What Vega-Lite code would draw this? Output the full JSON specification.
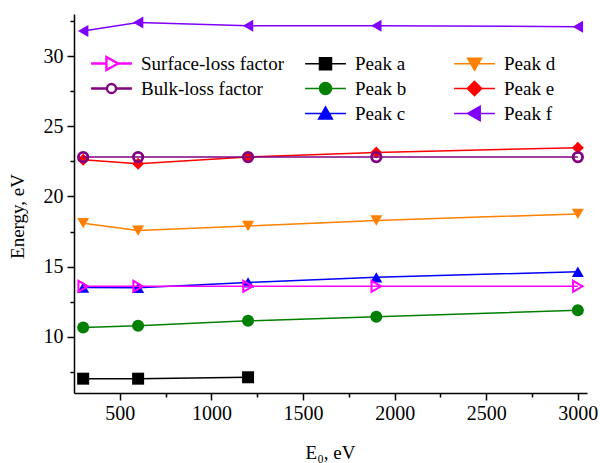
{
  "$schema": "https://vega.github.io/schema/vega-lite/v6.json",
  "autosize": {"type": "none"},
  "width": 513,
  "height": 379,
  "padding": {"left": 74, "top": 14, "right": 13, "bottom": 70},
  "config": {
    "view": {"stroke": null},
    "font": "Liberation Serif, Times New Roman, serif",
    "axis": {
      "domainColor": "black", "domainWidth": 1.5,
      "tickColor": "black", "tickWidth": 1.5,
      "labelColor": "black", "labelFont": "Liberation Serif, Times New Roman, serif", "labelFontSize": 20,
      "titleFont": "Liberation Serif, Times New Roman, serif", "titleFontSize": 19, "titleFontWeight": "normal", "titleColor": "black",
      "grid": false, "labelOverlap": false, "labelFlush": false
    },
    "legend": {"labelFont": "Liberation Serif, Times New Roman, serif", "labelFontSize": 19, "labelColor": "black", "labelLimit": 400}
  },
  "data": {
    "values": [
      {"series": "Peak a", "E0": 300, "energy": 7.02},
      {"series": "Peak a", "E0": 600, "energy": 7.02},
      {"series": "Peak a", "E0": 1200, "energy": 7.12},
      {"series": "Peak b", "E0": 300, "energy": 10.66},
      {"series": "Peak b", "E0": 600, "energy": 10.79},
      {"series": "Peak b", "E0": 1200, "energy": 11.14},
      {"series": "Peak b", "E0": 1900, "energy": 11.43},
      {"series": "Peak b", "E0": 3000, "energy": 11.9},
      {"series": "Peak c", "E0": 300, "energy": 13.52},
      {"series": "Peak c", "E0": 600, "energy": 13.5},
      {"series": "Peak c", "E0": 1200, "energy": 13.88},
      {"series": "Peak c", "E0": 1900, "energy": 14.24},
      {"series": "Peak c", "E0": 3000, "energy": 14.64},
      {"series": "Peak d", "E0": 300, "energy": 18.1},
      {"series": "Peak d", "E0": 600, "energy": 17.57},
      {"series": "Peak d", "E0": 1200, "energy": 17.9},
      {"series": "Peak d", "E0": 1900, "energy": 18.29},
      {"series": "Peak d", "E0": 3000, "energy": 18.76},
      {"series": "Peak e", "E0": 300, "energy": 22.62},
      {"series": "Peak e", "E0": 600, "energy": 22.33},
      {"series": "Peak e", "E0": 1200, "energy": 22.81},
      {"series": "Peak e", "E0": 1900, "energy": 23.14},
      {"series": "Peak e", "E0": 3000, "energy": 23.48},
      {"series": "Peak f", "E0": 300, "energy": 31.79},
      {"series": "Peak f", "E0": 600, "energy": 32.4},
      {"series": "Peak f", "E0": 1200, "energy": 32.17},
      {"series": "Peak f", "E0": 1900, "energy": 32.17},
      {"series": "Peak f", "E0": 3000, "energy": 32.1},
      {"series": "Surface-loss factor", "E0": 300, "energy": 13.6},
      {"series": "Surface-loss factor", "E0": 600, "energy": 13.6},
      {"series": "Surface-loss factor", "E0": 1200, "energy": 13.6},
      {"series": "Surface-loss factor", "E0": 1900, "energy": 13.6},
      {"series": "Surface-loss factor", "E0": 3000, "energy": 13.6},
      {"series": "Bulk-loss factor", "E0": 300, "energy": 22.81},
      {"series": "Bulk-loss factor", "E0": 600, "energy": 22.81},
      {"series": "Bulk-loss factor", "E0": 1200, "energy": 22.81},
      {"series": "Bulk-loss factor", "E0": 1900, "energy": 22.81},
      {"series": "Bulk-loss factor", "E0": 3000, "energy": 22.81}
    ]
  },
  "encoding": {
    "x": {
      "field": "E0", "type": "quantitative",
      "scale": {"domain": [250, 3050], "nice": false, "zero": false},
      "axis": {
        "values": [500, 750, 1000, 1250, 1500, 1750, 2000, 2250, 2500, 2750, 3000],
        "format": "d",
        "labelExpr": "datum.value % 500 === 0 ? datum.label : ''",
        "tickSize": {"condition": {"test": "datum.value % 500 === 0", "value": 7}, "value": 4},
        "labelPadding": 3,
        "title": "E₀, eV",
        "titleX": 256, "titleY": 65, "titleBaseline": "alphabetic", "titleAlign": "center"
      }
    },
    "y": {
      "field": "energy", "type": "quantitative",
      "scale": {"domain": [6, 33], "nice": false, "zero": false},
      "axis": {
        "values": [7.5, 10, 12.5, 15, 17.5, 20, 22.5, 25, 27.5, 30, 32.5],
        "labelExpr": "datum.value % 5 === 0 ? datum.label : ''",
        "tickSize": {"condition": {"test": "datum.value % 5 === 0", "value": 7}, "value": 4},
        "labelPadding": 4,
        "title": "Energy, eV",
        "titleX": -57, "titleY": 202, "titleBaseline": "middle", "titleAlign": "center"
      }
    }
  },
  "layer": [
    {
      "transform": [{"filter": {"field": "series", "oneOf": ["Peak a", "Peak b", "Peak c", "Peak d", "Peak e", "Peak f"]}}],
      "mark": {"type": "line", "strokeWidth": 1.5},
      "encoding": {
        "color": {
          "field": "series", "type": "nominal",
          "scale": {"domain": ["Peak a", "Peak b", "Peak c", "Peak d", "Peak e", "Peak f"], "range": ["#000000", "#008000", "#0000FF", "#FF8000", "#FF0000", "#8000FF"]},
          "legend": null
        }
      }
    },
    {
      "transform": [{"filter": {"field": "series", "oneOf": ["Peak a", "Peak b", "Peak c", "Peak d", "Peak e", "Peak f"]}}],
      "mark": {"type": "point", "filled": true, "opacity": 1},
      "encoding": {
        "color": {
          "field": "series", "type": "nominal",
          "scale": {"domain": ["Peak a", "Peak b", "Peak c", "Peak d", "Peak e", "Peak f"], "range": ["#000000", "#008000", "#0000FF", "#FF8000", "#FF0000", "#8000FF"]},
          "legend": null
        },
        "shape": {
          "field": "series", "type": "nominal",
          "scale": {"domain": ["Peak a", "Peak b", "Peak c", "Peak d", "Peak e", "Peak f"], "range": ["square", "circle", "triangle-up", "triangle-down", "diamond", "triangle-left"]},
          "legend": null
        },
        "size": {
          "field": "series", "type": "nominal",
          "scale": {"domain": ["Peak a", "Peak b", "Peak c", "Peak d", "Peak e", "Peak f"], "range": [144, 144, 196, 200, 196, 225]},
          "legend": null
        }
      }
    },
    {
      "transform": [{"filter": {"field": "series", "oneOf": ["Surface-loss factor", "Bulk-loss factor"]}}],
      "mark": {"type": "line", "strokeWidth": 1.5},
      "encoding": {
        "color": {
          "field": "series", "type": "nominal",
          "scale": {"domain": ["Surface-loss factor", "Bulk-loss factor"], "range": ["#FF00FF", "#800080"]},
          "legend": null
        }
      }
    },
    {
      "transform": [{"filter": {"field": "series", "oneOf": ["Surface-loss factor", "Bulk-loss factor"]}}],
      "mark": {"type": "point", "filled": false, "opacity": 1},
      "encoding": {
        "color": {
          "field": "series", "type": "nominal",
          "scale": {"domain": ["Surface-loss factor", "Bulk-loss factor"], "range": ["#FF00FF", "#800080"]},
          "legend": null
        },
        "shape": {
          "field": "series", "type": "nominal",
          "scale": {"domain": ["Surface-loss factor", "Bulk-loss factor"], "range": ["triangle-right", "circle"]},
          "legend": null
        },
        "size": {
          "field": "series", "type": "nominal",
          "scale": {"domain": ["Surface-loss factor", "Bulk-loss factor"], "range": [121, 90]},
          "legend": null
        },
        "strokeWidth": {
          "field": "series", "type": "nominal",
          "scale": {"domain": ["Surface-loss factor", "Bulk-loss factor"], "range": [2, 2.8]},
          "legend": null
        }
      }
    },
    {
      "transform": [{"filter": {"field": "series", "oneOf": ["Peak a", "Peak b", "Peak c", "Peak d", "Peak e", "Peak f"]}}],
      "mark": {"type": "point", "filled": true, "opacity": 0},
      "encoding": {
        "fill": {
          "field": "series", "type": "nominal",
          "scale": {"domain": ["Peak a", "Peak b", "Peak c", "Peak d", "Peak e", "Peak f"], "range": ["#000000", "#008000", "#0000FF", "#FF8000", "#FF0000", "#8000FF"]},
          "legend": {
            "orient": "none", "legendX": 242, "legendY": 40, "title": null,
            "columns": 2, "columnPadding": 44, "rowPadding": 4,
            "symbolSize": 144, "labelOffset": 20, "symbolOpacity": 1, "symbolStrokeWidth": 1.5
          }
        },
        "stroke": {
          "field": "series", "type": "nominal",
          "scale": {"domain": ["Peak a", "Peak b", "Peak c", "Peak d", "Peak e", "Peak f"], "range": ["#000000", "#008000", "#0000FF", "#FF8000", "#FF0000", "#8000FF"]},
          "legend": {
            "orient": "none", "legendX": 242, "legendY": 40, "title": null,
            "columns": 2, "columnPadding": 44, "rowPadding": 4,
            "symbolSize": 144, "labelOffset": 20, "symbolOpacity": 1, "symbolStrokeWidth": 1.5
          }
        },
        "shape": {
          "field": "series", "type": "nominal",
          "scale": {
            "domain": ["Peak a", "Peak b", "Peak c", "Peak d", "Peak e", "Peak f"],
            "range": [
              "M-3.4,0H3.4M-1,-1H1V1H-1Z",
              "M-3.4,0H3.4M1,0A1,1,0,1,1,-1,0A1,1,0,1,1,1,0Z",
              "M-3.4,0H3.4M0,-1.1L1.15,0.9L-1.15,0.9Z",
              "M-3.4,0H3.4M0,1.1L1.15,-0.9L-1.15,-0.9Z",
              "M-3.4,0H3.4M0,-1.2L1.2,0L0,1.2L-1.2,0Z",
              "M-3.4,0H3.4M-1.15,0L0.95,-1.2L0.95,1.2Z"
            ]
          },
          "legend": {
            "orient": "none", "legendX": 242, "legendY": 40, "title": null,
            "columns": 2, "columnPadding": 44, "rowPadding": 4,
            "symbolSize": 144, "labelOffset": 20, "symbolOpacity": 1, "symbolStrokeWidth": 1.5
          }
        }
      }
    },
    {
      "transform": [{"filter": {"field": "series", "oneOf": ["Surface-loss factor", "Bulk-loss factor"]}}],
      "mark": {"type": "point", "filled": false, "opacity": 0},
      "encoding": {
        "stroke": {
          "field": "series", "type": "nominal",
          "scale": {"domain": ["Surface-loss factor", "Bulk-loss factor"], "range": ["#FF00FF", "#800080"]},
          "legend": {
            "orient": "none", "legendX": 28, "legendY": 40, "title": null,
            "rowPadding": 4, "symbolSize": 144, "labelOffset": 20, "symbolOpacity": 1,
            "symbolFillColor": "white", "symbolStrokeWidth": 2.3
          }
        },
        "shape": {
          "field": "series", "type": "nominal",
          "scale": {
            "domain": ["Surface-loss factor", "Bulk-loss factor"],
            "range": [
              "M-3.4,0H-0.85M1.1,0H3.4M1.1,0L-0.85,-1.1L-0.85,1.1Z",
              "M-3.4,0H-0.75M0.75,0H3.4M0.75,0A0.75,0.75,0,1,1,-0.75,0A0.75,0.75,0,1,1,0.75,0Z"
            ]
          },
          "legend": {
            "orient": "none", "legendX": 28, "legendY": 40, "title": null,
            "rowPadding": 4, "symbolSize": 144, "labelOffset": 20, "symbolOpacity": 1,
            "symbolFillColor": "white", "symbolStrokeWidth": 2.3
          }
        }
      }
    }
  ],
  "resolve": {"scale": {"color": "independent", "fill": "independent", "stroke": "independent", "shape": "independent", "size": "independent", "strokeWidth": "independent"}}
}
